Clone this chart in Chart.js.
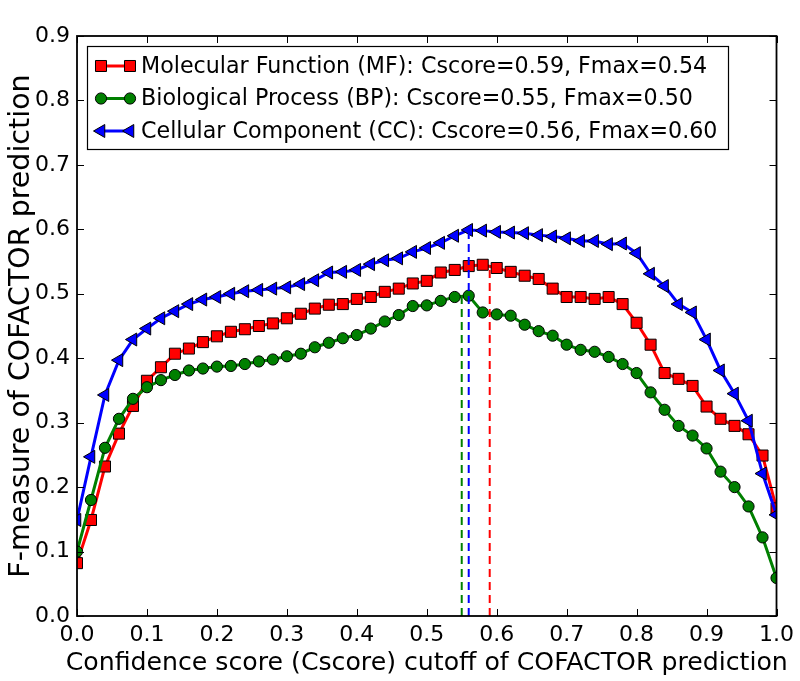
<!DOCTYPE html>
<html>
<head>
<meta charset="utf-8">
<script src="https://cdn.jsdelivr.net/npm/chart.js@4.4.0/dist/chart.umd.min.js"></script>
<style>
  html, body { margin: 0; padding: 0; background: #fff; }
</style>
</head>
<body>
<canvas id="chart" width="800" height="681"></canvas>
<script>
// Cscore cutoffs (x) and F-measure per GO aspect (y)
const cutoffs = [0.00, 0.02, 0.04, 0.06, 0.08, 0.10, 0.12, 0.14, 0.16, 0.18,
                 0.20, 0.22, 0.24, 0.26, 0.28, 0.30, 0.32, 0.34, 0.36, 0.38,
                 0.40, 0.42, 0.44, 0.46, 0.48, 0.50, 0.52, 0.54, 0.56, 0.58,
                 0.60, 0.62, 0.64, 0.66, 0.68, 0.70, 0.72, 0.74, 0.76, 0.78,
                 0.80, 0.82, 0.84, 0.86, 0.88, 0.90, 0.92, 0.94, 0.96, 0.98, 1.00];

const mfValues = [0.082, 0.149, 0.232, 0.283, 0.326, 0.365, 0.386, 0.407, 0.415, 0.425,
                  0.434, 0.441, 0.445, 0.450, 0.454, 0.462, 0.469, 0.477, 0.483, 0.484,
                  0.492, 0.495, 0.503, 0.508, 0.516, 0.520, 0.533, 0.537, 0.543, 0.545,
                  0.540, 0.534, 0.528, 0.523, 0.508, 0.495, 0.495, 0.492, 0.495, 0.484,
                  0.455, 0.421, 0.377, 0.368, 0.357, 0.325, 0.306, 0.295, 0.282, 0.249, 0.167];

const bpValues = [0.100, 0.180, 0.261, 0.306, 0.337, 0.355, 0.366, 0.374, 0.381, 0.384,
                  0.387, 0.388, 0.391, 0.395, 0.398, 0.403, 0.407, 0.417, 0.424, 0.431,
                  0.436, 0.446, 0.457, 0.467, 0.481, 0.482, 0.489, 0.495, 0.497, 0.471,
                  0.468, 0.466, 0.452, 0.442, 0.435, 0.421, 0.413, 0.410, 0.402, 0.391,
                  0.377, 0.347, 0.320, 0.295, 0.280, 0.260, 0.224, 0.200, 0.170, 0.122, 0.059];

const ccValues = [0.149, 0.247, 0.343, 0.397, 0.429, 0.446, 0.462, 0.473, 0.484, 0.491,
                  0.495, 0.500, 0.504, 0.506, 0.508, 0.510, 0.515, 0.521, 0.533, 0.534,
                  0.537, 0.546, 0.552, 0.555, 0.565, 0.571, 0.579, 0.590, 0.599, 0.598,
                  0.596, 0.595, 0.594, 0.591, 0.589, 0.586, 0.582, 0.582, 0.577, 0.578,
                  0.563, 0.531, 0.512, 0.484, 0.471, 0.429, 0.381, 0.345, 0.303, 0.221, 0.157];

const seriesLabels = [
  'Molecular Function (MF): Cscore=0.59, Fmax=0.54',
  'Biological Process (BP): Cscore=0.55, Fmax=0.50',
  'Cellular Component (CC): Cscore=0.56, Fmax=0.60'
];
const bestCscore = [0.59, 0.55, 0.56];
const bestFmax = [0.54, 0.50, 0.60];

const xTicks = [0.0, 0.1, 0.2, 0.3, 0.4, 0.5, 0.6, 0.7, 0.8, 0.9, 1.0];
const yTicks = [0.0, 0.1, 0.2, 0.3, 0.4, 0.5, 0.6, 0.7, 0.8, 0.9];
const xTitle = 'Confidence score (Cscore) cutoff of COFACTOR prediction';
const yTitle = 'F-measure of COFACTOR prediction';

const colors = ['#ff0000', '#008000', '#0000ff'];
const markers = [
  { style: 'rect', radius: 7.8, rotation: 0 },
  { style: 'circle', radius: 5.6, rotation: 0 },
  { style: 'triangle', radius: 7.5, rotation: -90 }
];
const FONT = 'DejaVu Sans';

const toPoints = vals => cutoffs.map((c, i) => ({ x: c, y: vals[i] }));

const curves = [mfValues, bpValues, ccValues].map((vals, i) => ({
  label: seriesLabels[i],
  data: toPoints(vals),
  borderColor: colors[i],
  backgroundColor: colors[i],
  borderWidth: 3,
  pointStyle: markers[i].style,
  pointRadius: markers[i].radius,
  pointRotation: markers[i].rotation,
  pointBorderColor: '#000',
  pointBorderWidth: 1,
  pointBackgroundColor: colors[i],
  tension: 0,
  clip: 0,
  order: 3 - i
}));

const cutLines = bestCscore.map((c, i) => ({
  label: 'cut' + i,
  data: [{ x: c, y: 0 }, { x: c, y: bestFmax[i] }],
  borderColor: colors[i],
  borderWidth: 2,
  borderDash: [8, 5],
  pointRadius: 0,
  clip: 0,
  order: 0
}));

// hand-drawn matplotlib-style legend: line with a marker at each end
const legendBox = {
  id: 'legendBox',
  afterDatasetsDraw(chart) {
    const ctx = chart.ctx;
    ctx.save();
    ctx.fillStyle = '#fff';
    ctx.strokeStyle = '#000';
    ctx.lineWidth = 1.2;
    ctx.fillRect(87.5, 46.5, 641, 103);
    ctx.strokeRect(87.5, 46.5, 641, 103);
    seriesLabels.forEach((label, i) => {
      const y = 66 + i * 32.5;
      ctx.strokeStyle = colors[i];
      ctx.lineWidth = 3;
      ctx.setLineDash([]);
      ctx.beginPath();
      ctx.moveTo(101, y);
      ctx.lineTo(130, y);
      ctx.stroke();
      [101, 130].forEach(x => {
        ctx.fillStyle = colors[i];
        ctx.strokeStyle = '#000';
        ctx.lineWidth = 1;
        Chart.helpers.drawPoint(ctx, {
          pointStyle: markers[i].style,
          radius: markers[i].radius,
          rotation: markers[i].rotation,
          borderWidth: 1
        }, x, y);
      });
      ctx.fillStyle = '#000';
      ctx.font = '22.2px "' + FONT + '"';
      ctx.textAlign = 'left';
      ctx.textBaseline = 'middle';
      ctx.fillText(label, 141, y + 1);
    });
    ctx.restore();
  }
};

// axes frame with inward ticks on all four sides, plus the x title
// (Chart.js would squeeze a title wider than the plot area)
const frameTicks = {
  id: 'frameTicks',
  afterDraw(chart) {
    const { ctx, chartArea: a, scales } = chart;
    ctx.save();
    ctx.strokeStyle = '#000';
    ctx.lineWidth = 1;
    ctx.beginPath();
    xTicks.forEach(v => {
      const px = Math.round(scales.x.getPixelForValue(v)) + 0.5;
      ctx.moveTo(px, a.bottom); ctx.lineTo(px, a.bottom - 7);
      ctx.moveTo(px, a.top); ctx.lineTo(px, a.top + 7);
    });
    yTicks.forEach(v => {
      const py = Math.round(scales.y.getPixelForValue(v)) + 0.5;
      ctx.moveTo(a.left, py); ctx.lineTo(a.left + 7, py);
      ctx.moveTo(a.right, py); ctx.lineTo(a.right - 7, py);
    });
    ctx.stroke();
    ctx.lineWidth = 1.8;
    ctx.strokeRect(a.left, a.top, a.right - a.left, a.bottom - a.top);

    ctx.fillStyle = '#000';
    ctx.font = '25.2px "' + FONT + '"';
    ctx.textAlign = 'center';
    ctx.textBaseline = 'middle';
    ctx.fillText(xTitle, (a.left + a.right) / 2, 663);
    ctx.restore();
  }
};

new Chart(document.getElementById('chart').getContext('2d'), {
  type: 'line',
  data: { datasets: [...curves, ...cutLines] },
  options: {
    responsive: false,
    animation: false,
    layout: { padding: { top: 36, right: 18, left: 0, bottom: 0 } },
    plugins: {
      legend: { display: false },
      tooltip: { enabled: false }
    },
    scales: {
      x: {
        type: 'linear',
        min: 0,
        max: 1,
        afterBuildTicks: s => { s.ticks = xTicks.map(v => ({ value: v })); },
        afterFit: s => { s.height = 65; },
        grid: { display: false, drawTicks: false },
        border: { display: false },
        ticks: {
          color: '#000',
          font: { family: FONT, size: 22 },
          padding: 6,
          maxRotation: 0,
          autoSkip: false,
          callback: v => v.toFixed(1)
        }
      },
      y: {
        min: 0,
        max: 0.9,
        afterBuildTicks: s => { s.ticks = yTicks.map(v => ({ value: v })); },
        afterFit: s => { s.width = 77; },
        grid: { display: false, drawTicks: false },
        border: { display: false },
        ticks: {
          color: '#000',
          font: { family: FONT, size: 22 },
          padding: 7,
          callback: v => v.toFixed(1)
        },
        title: {
          display: true,
          text: yTitle,
          color: '#000',
          font: { family: FONT, size: 28.5 },
          padding: { top: 4, bottom: 0 }
        }
      }
    }
  },
  plugins: [legendBox, frameTicks]
});
</script>
</body>
</html>
